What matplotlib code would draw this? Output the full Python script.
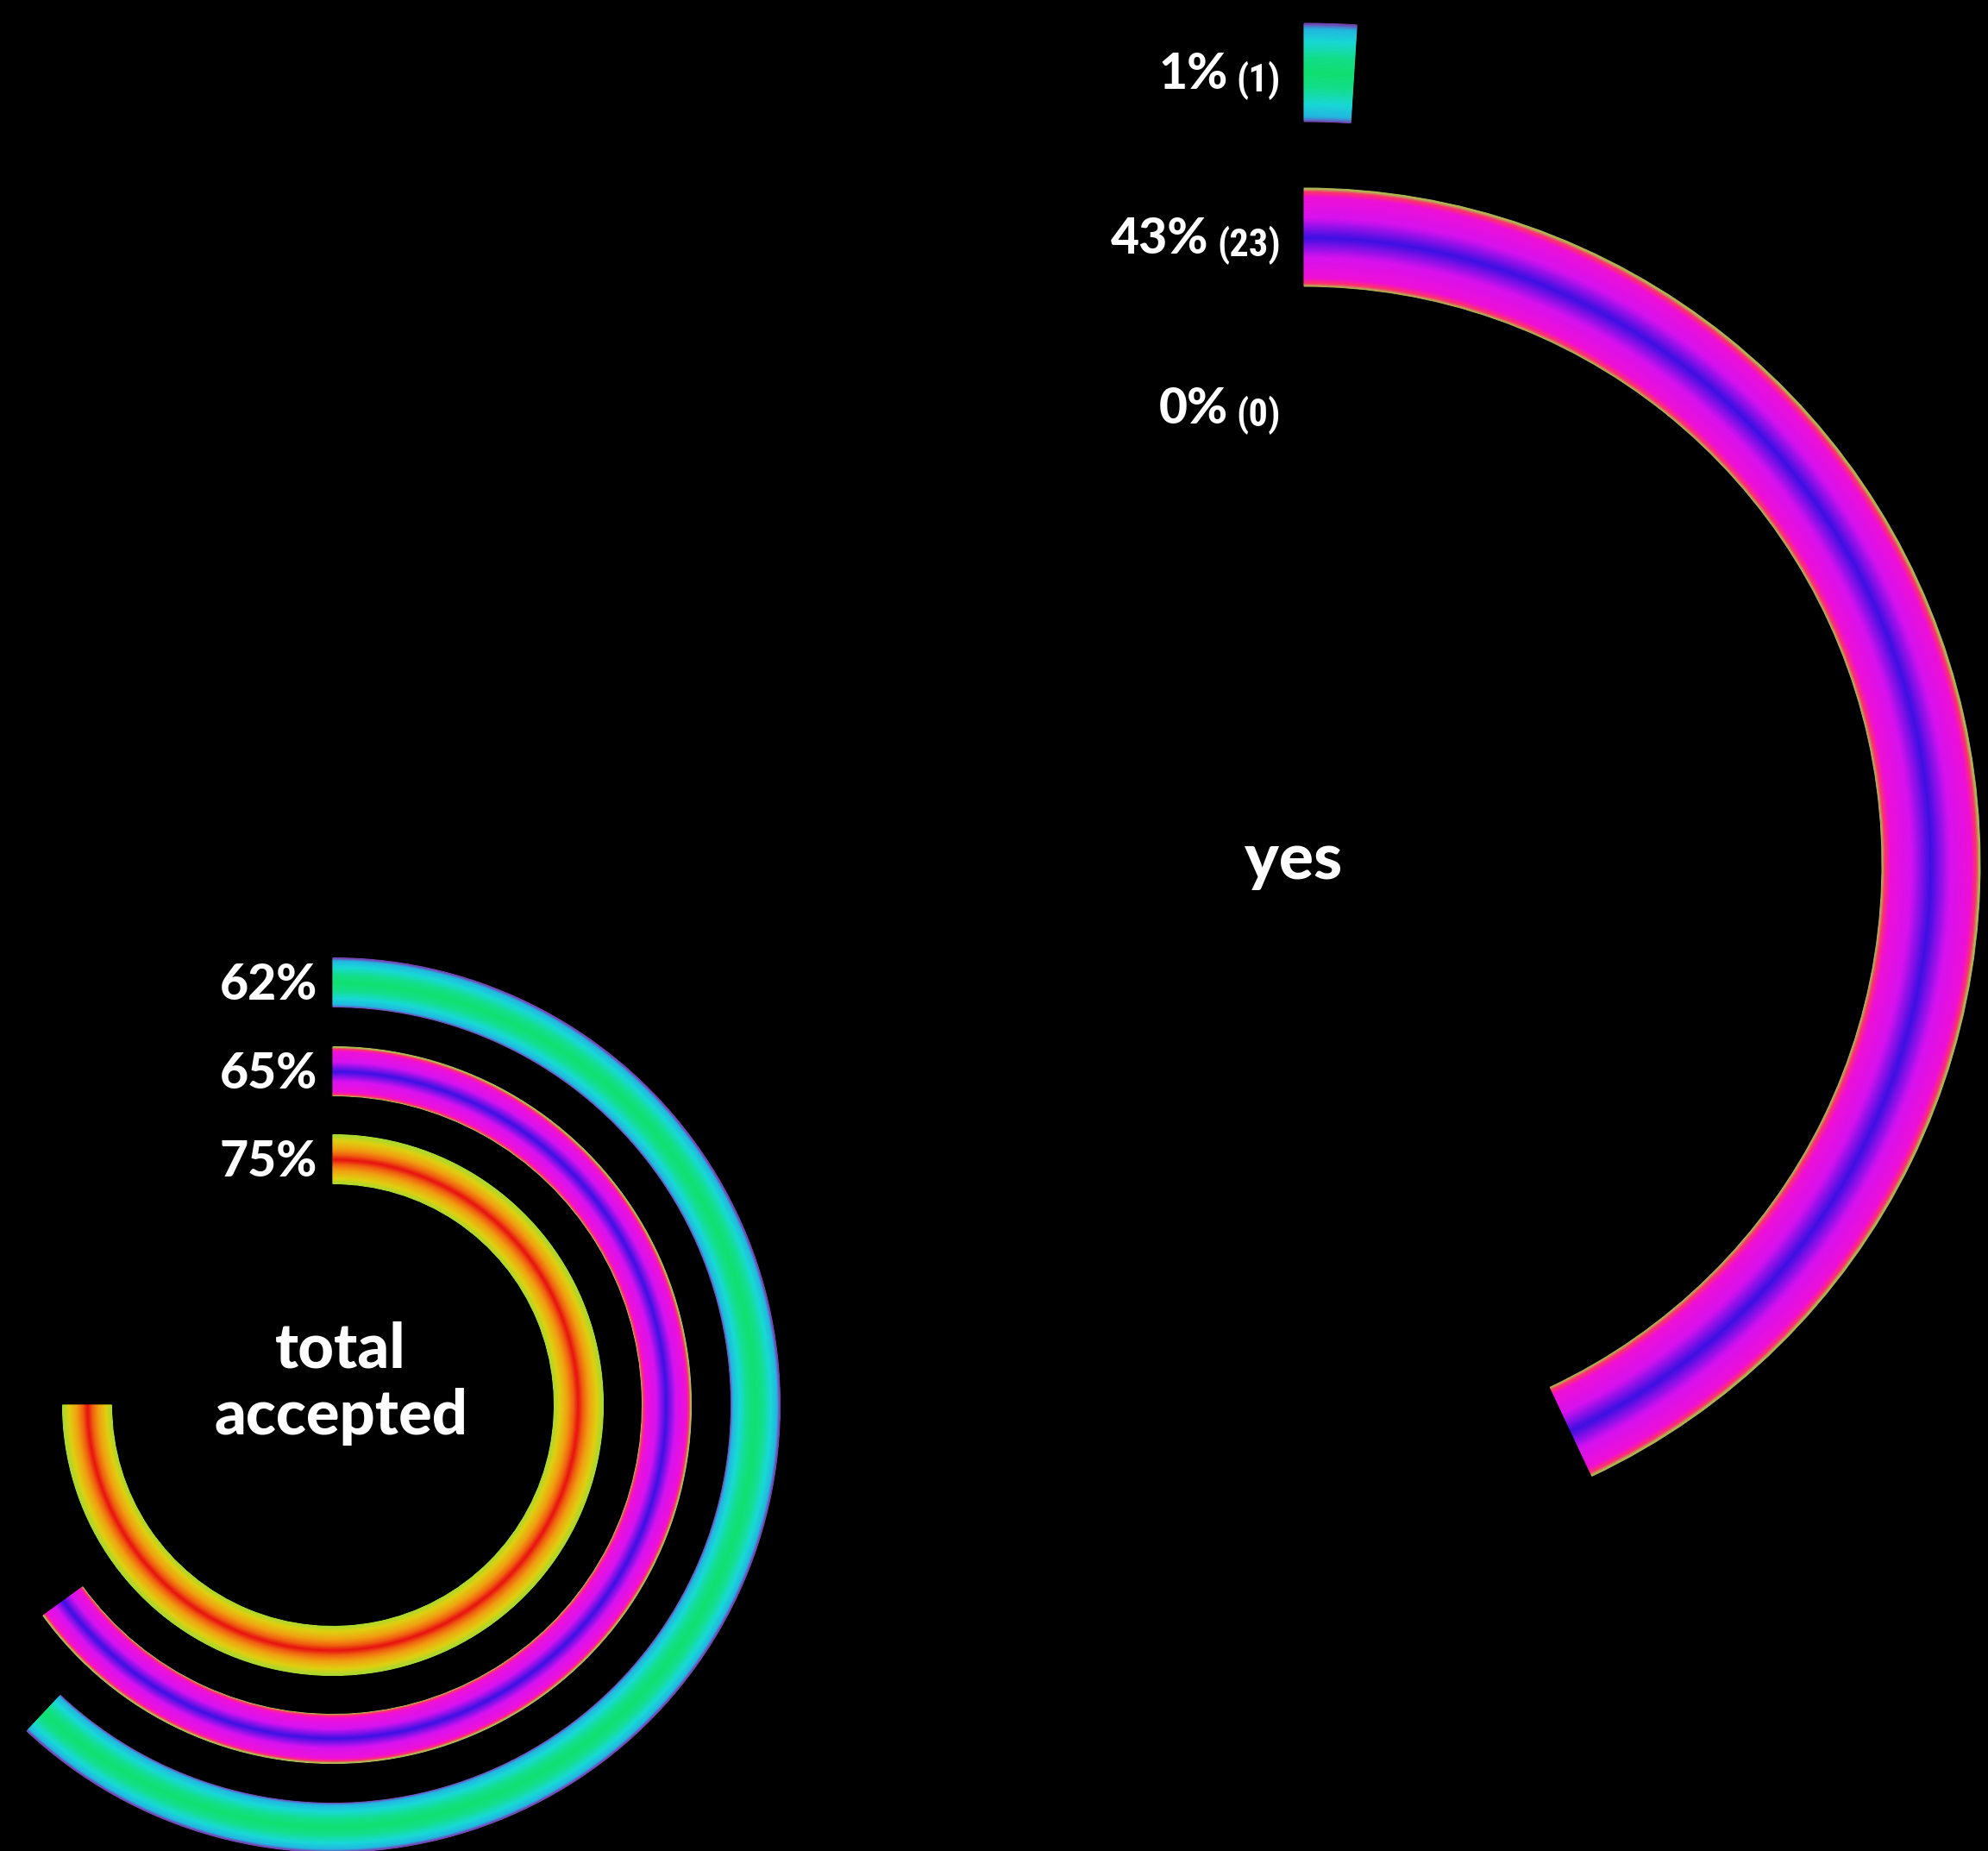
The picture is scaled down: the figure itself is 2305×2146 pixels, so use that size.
import numpy as np
import matplotlib
matplotlib.use("Agg")
import matplotlib.pyplot as plt
from matplotlib.colors import LinearSegmentedColormap
from matplotlib import font_manager

# ---------------- data ----------------
yes_title = "yes"
yes_pct = [1, 43, 0]          # outer -> inner ring
yes_count = [1, 23, 0]
yes_style = ["green", "magenta", "yellow"]

total_title = "total\naccepted"
total_pct = [62, 65, 75]      # outer -> inner ring
total_style = ["green", "magenta", "yellow"]

# ---------------- styles ----------------
PROFILES = {
    "green": ["#7a3fb0", "#22b6e2", "#19d9d6", "#12df8a", "#10e070",
              "#12df8a", "#19d9d6", "#22b6e2", "#7a3fb0"],
    "magenta": ["#a8c850", "#ff3070", "#f010d8", "#d812f0", "#3c10e4",
                "#d812f0", "#f010d8", "#ff3070", "#a8c850"],
    "yellow": ["#a8d830", "#e0d010", "#f0a010", "#f06010", "#e81010",
               "#f06010", "#f0a010", "#e0d010", "#a8d830"],
}
POS = {
    "green": [0.0, 0.05, 0.18, 0.35, 0.5, 0.65, 0.82, 0.95, 1.0],
    "magenta": [0.0, 0.035, 0.09, 0.30, 0.5, 0.70, 0.91, 0.965, 1.0],
    "yellow": [0.0, 0.12, 0.28, 0.40, 0.5, 0.60, 0.72, 0.88, 1.0],
}
CMAPS = {k: LinearSegmentedColormap.from_list(k, list(zip(POS[k], v)))
         for k, v in PROFILES.items()}

W, H, DPI = 2305, 2146, 100
fig = plt.figure(figsize=(W / DPI, H / DPI), dpi=DPI, facecolor="black")

BOLD = dict(family=["Lato", "DejaVu Sans"], weight="black", color="white")

# pick a narrow family for the counts if one is installed
installed = {f.name for f in font_manager.fontManager.ttflist}
narrow = [n for n in ["Roboto Condensed", "Liberation Sans Narrow",
                      "Open Sans Condensed", "DejaVu Sans Condensed"]
          if n in installed]
if narrow:
    COND = dict(family=[narrow[0]], weight="bold", color="white")
    COND_SIZE = 32
else:
    COND = dict(family=["Roboto", "DejaVu Sans"], stretch="condensed",
                weight="medium", color="white")
    COND_SIZE = 27


def polar_axes(cx, cy, rmax):
    # cx, cy in pixels from top-left
    rect = [(cx - rmax) / W, (H - cy - rmax) / H, 2 * rmax / W, 2 * rmax / H]
    ax = fig.add_axes(rect, projection="polar")
    ax.set_theta_zero_location("N")
    ax.set_theta_direction(-1)
    ax.patch.set_alpha(0)
    ax.axis("off")
    return ax


def draw_rings(ax, pct, styles, mids, width, rmax, nband=90):
    for p, s, m in zip(pct, styles, mids):
        theta = p / 100.0 * 2 * np.pi
        if theta <= 0:
            continue
        edges = np.linspace(m - width / 2, m + width / 2, nband + 1)
        cols = [CMAPS[s]((k + 0.5) / nband) for k in range(nband)]
        ax.bar(np.full(nband, theta / 2), np.diff(edges), width=theta,
               bottom=edges[:-1], color=cols, edgecolor=cols, linewidth=0.7,
               align="center")
    ax.set_ylim(0, rmax)


# ---------------- big chart: yes ----------------
ax1 = polar_axes(1512, 1002, 1000)
mids1 = [918, 727, 530]
draw_rings(ax1, yes_pct, yes_style, mids1, 114, 1000)
ax1.annotate(yes_title, xy=(0, 0), xytext=(-12, -17), textcoords="offset pixels",
             ha="center", va="baseline", fontsize=54, **BOLD)

fig.canvas.draw()
renderer = fig.canvas.get_renderer()
for p, c, m in zip(yes_pct, yes_count, mids1):
    t = ax1.annotate(f"({c})", xy=(0, m), xytext=(-27, -22),
                     textcoords="offset pixels", ha="right", va="baseline",
                     fontsize=COND_SIZE, **COND)
    w = t.get_window_extent(renderer).width
    ax1.annotate(f"{p}%", xy=(0, m), xytext=(-27 - w - 10, -19),
                 textcoords="offset pixels", ha="right", va="baseline",
                 fontsize=41, **BOLD)

# ---------------- small chart: total accepted ----------------
ax2 = polar_axes(386, 1629, 550)
mids2 = [490, 387, 285]
draw_rings(ax2, total_pct, total_style, mids2, 57, 550)
ax2.annotate(total_title, xy=(0, 0), xytext=(9, -34), textcoords="offset pixels",
             ha="center", va="baseline", multialignment="center",
             linespacing=1.19, fontsize=52, **BOLD)
for p, m in zip(total_pct, mids2):
    ax2.annotate(f"{p}%", xy=(0, m), xytext=(-18, -20),
                 textcoords="offset pixels", ha="right", va="baseline",
                 fontsize=41, **BOLD)

fig.savefig("out.png", dpi=DPI, facecolor="black")
